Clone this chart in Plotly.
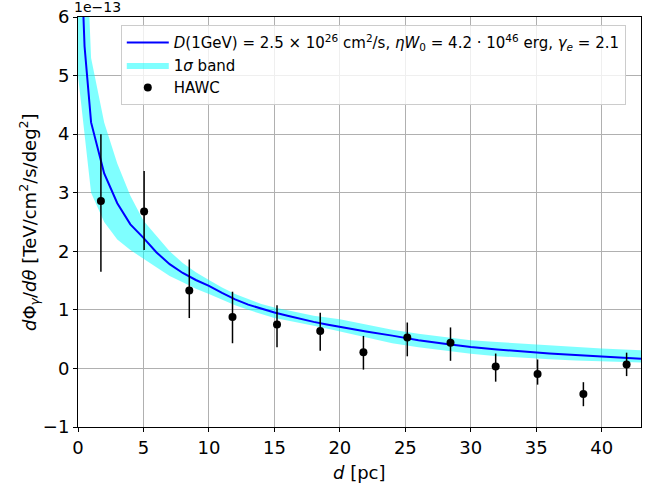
import plotly.graph_objects as go

# model curve and 1-sigma band (units of 1e-13)
d_model = [0, 0.5, 1, 2, 3, 4, 5, 6, 7, 8, 9, 10, 11, 12, 13, 14, 15, 16, 17, 18, 19, 20,
           22, 24, 26, 28, 30, 32, 34, 36, 38, 40, 43]
model = [8.5, 5.5, 4.2, 3.33, 2.82, 2.46, 2.23, 1.98, 1.78, 1.63, 1.51, 1.41, 1.29, 1.18, 1.09, 1.02,
         0.954, 0.90, 0.845, 0.795, 0.75, 0.706, 0.63, 0.56, 0.48, 0.42, 0.365, 0.325, 0.285,
         0.255, 0.228, 0.205, 0.165]
band_upper = [10.0, 8.0, 5.3, 4.2, 3.5, 2.95, 2.52, 2.25, 2.0, 1.8, 1.64, 1.51, 1.38, 1.27, 1.18, 1.1,
              1.04, 0.99, 0.95, 0.9, 0.87, 0.84, 0.75, 0.66, 0.59, 0.53, 0.48, 0.45, 0.42,
              0.39, 0.365, 0.34, 0.31]
band_lower = [5.0, 4.0, 3.0, 2.5, 2.2, 2.02, 1.87, 1.72, 1.58, 1.47, 1.36, 1.27, 1.17, 1.08, 1.0, 0.93,
              0.86, 0.82, 0.78, 0.73, 0.68, 0.63, 0.53, 0.43, 0.36, 0.3, 0.25, 0.21, 0.18,
              0.155, 0.135, 0.12, 0.10]

# HAWC data points (units of 1e-13)
d_hawc = [1.75, 5.05, 8.5, 11.8, 15.2, 18.5, 21.8, 25.15, 28.45, 31.9, 35.1, 38.6, 41.9]
flux_hawc = [2.86, 2.68, 1.33, 0.88, 0.75, 0.64, 0.275, 0.527, 0.44, 0.034, -0.097, -0.435, 0.069]
err_up = [1.14, 0.69, 0.53, 0.43, 0.33, 0.31, 0.28, 0.257, 0.26, 0.22, 0.25, 0.2, 0.2]
err_down = [1.21, 0.66, 0.47, 0.45, 0.39, 0.34, 0.295, 0.32, 0.31, 0.26, 0.18, 0.21, 0.2]

x_ticks = [0, 5, 10, 15, 20, 25, 30, 35, 40]
y_ticks = [-1, 0, 1, 2, 3, 4, 5, 6]

FONT = "DejaVu Sans"

fig = go.Figure()

fig.add_trace(go.Scatter(
    x=d_model, y=band_upper, mode="lines", line=dict(width=0, color="rgba(0,255,255,0.5)"),
    showlegend=False, hoverinfo="skip"))
fig.add_trace(go.Scatter(
    x=d_model, y=band_lower, mode="lines", line=dict(width=0, color="rgba(0,255,255,0.5)"),
    fill="tonexty", fillcolor="rgba(0,255,255,0.5)",
    name="1<i>σ</i> band", legendrank=2))
fig.add_trace(go.Scatter(
    x=d_model, y=model, mode="lines", line=dict(color="#0000ff", width=2),
    name="<i>D</i>(1GeV) = 2.5 × 10<sup>26</sup> cm<sup>2</sup>/s, <i>ηW</i><sub>0</sub> = 4.2 · 10<sup>46</sup> erg, <i>γ</i><sub><i>e</i></sub> = 2.1",
    legendrank=1))
fig.add_trace(go.Scatter(
    x=d_hawc, y=flux_hawc, mode="markers",
    marker=dict(color="black", size=8),
    error_y=dict(type="data", symmetric=False, array=err_up, arrayminus=err_down,
                 color="black", thickness=1.5, width=0),
    name="HAWC", legendrank=3))

axis_common = dict(
    showline=True, linecolor="black", linewidth=1, mirror=True,
    ticks="outside", ticklen=4, tickwidth=1, tickcolor="black",
    showgrid=True, gridcolor="#b0b0b0", gridwidth=1, zeroline=False,
    tickfont=dict(family=FONT, size=18, color="black"),
    automargin=False,
)

fig.update_xaxes(range=[0, 43], tickvals=x_ticks, **axis_common)
fig.update_yaxes(range=[-1, 6], tickvals=y_ticks, **axis_common)

fig.add_annotation(text="<i>d</i> [pc]", xref="paper", yref="paper", x=0.5, y=-0.112,
                   xanchor="center", yanchor="middle", showarrow=False,
                   font=dict(family=FONT, size=18, color="black"))
fig.add_annotation(text="<i>d</i>Φ<sub><i>γ</i></sub>/<i>dθ</i> [TeV/cm<sup>2</sup>/s/deg<sup>2</sup>]",
                   xref="paper", yref="paper", x=-0.087, y=0.5, textangle=-90,
                   xanchor="center", yanchor="middle", showarrow=False,
                   font=dict(family=FONT, size=18, color="black"))
fig.add_annotation(text="1e−13", xref="paper", yref="paper", x=-0.01, y=1.0,
                   xanchor="left", yanchor="bottom", showarrow=False,
                   font=dict(family=FONT, size=14, color="black"))

fig.update_layout(
    width=654, height=499,
    margin=dict(l=78, r=13, t=17, b=72),
    plot_bgcolor="white", paper_bgcolor="white",
    font=dict(family=FONT, color="black"),
    legend=dict(x=0.076, y=0.98, xanchor="left", yanchor="top",
                bgcolor="rgba(255,255,255,0.8)", bordercolor="#cccccc", borderwidth=1,
                font=dict(family=FONT, size=15, color="black"),
                traceorder="normal", itemwidth=42),
)

fig.write_html("out.html", config={"displayModeBar": False},
               post_script="document.body.style.margin='0px';")
